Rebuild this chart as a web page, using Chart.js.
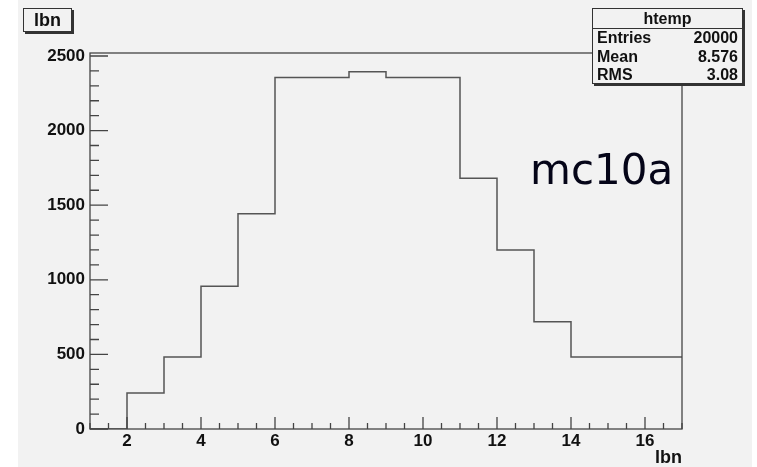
<!doctype html>
<html lang="en">
<head>
<meta charset="utf-8">
<title>lbn</title>
<script src="https://cdn.jsdelivr.net/npm/chart.js"></script>
<style>
  html, body { margin: 0; padding: 0; background: #fff; }
  #wrap { position: relative; width: 757px; height: 467px; overflow: hidden; }
  #panel { position: absolute; left: 18px; top: 0; width: 734px; height: 467px; background: #f2f2f2; }
  #chart { position: absolute; left: 0; top: 0; }
  .box {
    position: absolute; box-sizing: border-box; background: #f2f2f2;
    border: 1px solid #333; box-shadow: 2px 2px 0 #333;
    font-family: "Liberation Sans", Arial, sans-serif; font-weight: bold; color: #111;
  }
  #hname { left: 23px; top: 8px; width: 49px; height: 24px; font-size: 18px; line-height: 22px; text-align: center; }
  #stats { left: 592px; top: 8px; width: 151px; height: 76px; font-size: 16px; }
  #stats .ttl { height: 19px; line-height: 19px; text-align: center; border-bottom: 1px solid #333; }
  #stats .row { display: flex; justify-content: space-between; height: 18.6px; line-height: 18.6px; padding: 0 4px 0 4px; }
  #tag { position: absolute; left: 530px; top: 149px; font-family: "DejaVu Sans", sans-serif; font-size: 42px; line-height: 42px; color: #050518; }
</style>
</head>
<body>
<div id="wrap">
  <div id="panel"></div>
  <canvas id="chart" width="757" height="467"></canvas>
  <div class="box" id="hname">lbn</div>
  <div class="box" id="stats">
    <div class="ttl">htemp</div>
    <div class="row"><span>Entries</span><span>20000</span></div>
    <div class="row"><span>Mean</span><span>8.576</span></div>
    <div class="row"><span>RMS</span><span>3.08</span></div>
  </div>
  <div id="tag">mc10a</div>
</div>

<script>
// histogram: lower bin edges 1..16 plus the upper edge 17
const binEdges = [1, 2, 3, 4, 5, 6, 7, 8, 9, 10, 11, 12, 13, 14, 15, 16, 17];
const binCounts = [0, 241, 482, 956, 1442, 2355, 2355, 2395, 2355, 2355, 1680, 1200, 718, 482, 482, 482];

// axis labels
const xLabels = [2, 4, 6, 8, 10, 12, 14, 16];
const yLabels = [0, 500, 1000, 1500, 2000, 2500];
const xMin = 1, xMax = 17, yMin = 0, yMax = 2520;

// last edge repeats the last count so the step runs to the frame
const points = binEdges.map(function(e, i) {
  return { x: e, y: binCounts[Math.min(i, binCounts.length - 1)] };
});

// ROOT style frame with inward ticks
const rootFrame = {
  id: 'rootFrame',
  afterDraw(chart) {
    const ctx = chart.ctx;
    const a = chart.chartArea;
    const xs = chart.scales.x, ys = chart.scales.y;
    ctx.save();
    ctx.strokeStyle = '#444';
    ctx.lineWidth = 1.3;
    ctx.strokeRect(a.left, a.top, a.right - a.left, a.bottom - a.top);
    ctx.beginPath();
    for (let v = yMin; v <= 2500; v += 100) {
      const y = ys.getPixelForValue(v);
      const len = v % 500 === 0 ? 18 : 9;
      ctx.moveTo(a.left, y);
      ctx.lineTo(a.left + len, y);
    }
    for (let v = xMin; v <= xMax; v += 0.5) {
      const x = xs.getPixelForValue(v);
      const len = v % 2 === 0 ? 12 : 6;
      ctx.moveTo(x, a.bottom);
      ctx.lineTo(x, a.bottom - len);
    }
    ctx.stroke();
    ctx.restore();
  }
};

const tickFont = { family: '"Liberation Sans", Arial, sans-serif', size: 17, weight: 'bold', lineHeight: 1 };

new Chart(document.getElementById('chart'), {
  type: 'line',
  data: {
    datasets: [{
      data: points,
      stepped: true,
      borderColor: '#555',
      borderWidth: 1.5,
      pointRadius: 0,
      fill: false
    }]
  },
  options: {
    responsive: false,
    animation: false,
    devicePixelRatio: 1,
    layout: { padding: { top: 53, right: 75, left: 0, bottom: 0 } },
    plugins: { legend: { display: false }, tooltip: { enabled: false } },
    scales: {
      x: {
        type: 'linear', min: xMin, max: xMax,
        afterBuildTicks: function(s) { s.ticks = xLabels.map(v => ({ value: v })); },
        afterFit: function(s) { s.height = 38; },
        grid: { display: false, drawTicks: false },
        border: { display: false },
        ticks: { font: tickFont, color: '#111', padding: 4, maxRotation: 0, callback: v => String(v) },
        title: { display: true, text: 'lbn', align: 'end', color: '#111',
                 font: { family: '"Liberation Sans", Arial, sans-serif', size: 18, weight: 'bold', lineHeight: 1 },
                 padding: { top: 0, bottom: 0 } }
      },
      y: {
        type: 'linear', min: yMin, max: yMax,
        afterBuildTicks: function(s) { s.ticks = yLabels.map(v => ({ value: v })); },
        afterFit: function(s) { s.width = 90; },
        grid: { display: false, drawTicks: false },
        border: { display: false },
        ticks: { font: tickFont, color: '#111', padding: 5, callback: v => String(v) }
      }
    }
  },
  plugins: [rootFrame]
});
</script>
</body>
</html>
